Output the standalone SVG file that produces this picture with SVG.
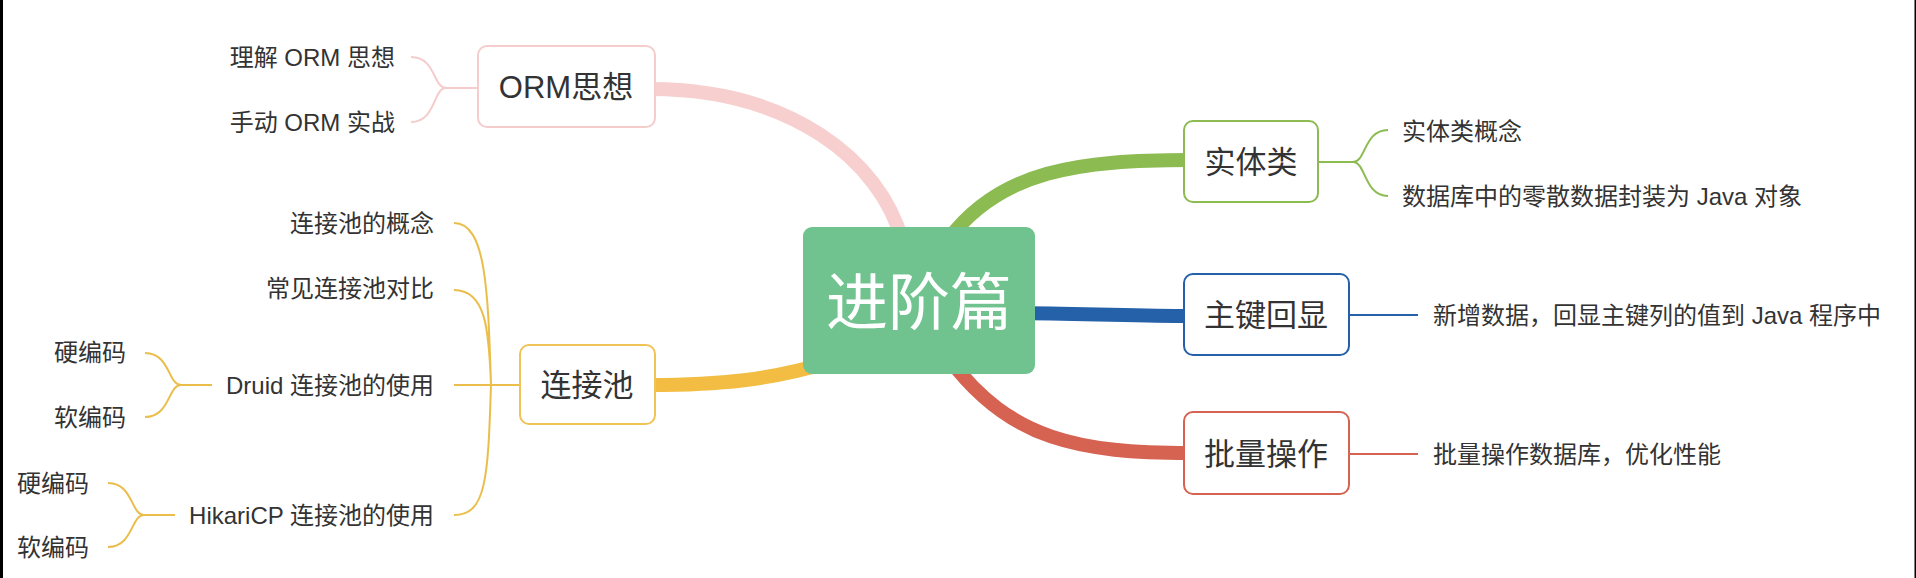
<svg xmlns="http://www.w3.org/2000/svg" width="1916" height="578" viewBox="0 0 1916 578">
<style>
.t{font-family:"Liberation Sans","Noto Sans CJK SC",sans-serif;fill:#333;font-size:24px}
.b{font-family:"Liberation Sans","Noto Sans CJK SC",sans-serif;fill:#333;font-size:31px;text-anchor:middle}
.e{text-anchor:end}
.br{fill:none;stroke-width:2}
.thick{fill:none;stroke-width:14;stroke-linecap:butt}
.box{fill:#fff;stroke-width:2}
</style>
<rect width="1916" height="578" fill="#fff"/>
<rect x="0" y="0" width="3" height="578" fill="#000"/>
<rect x="1914.5" y="0" width="1.5" height="578" fill="#000"/>
<g id="connectors">
<path class="thick" stroke="#f7cfcf" stroke-width="15" d="M650,89 C790,89 880,160 902,240"/>
<path class="thick" stroke="#8cbb52" d="M948,240 C1000,170 1080,160 1190,160"/>
<path class="thick" stroke="#2461a8" d="M1020,313 C1100,314 1140,316 1190,316"/>
<path class="thick" stroke="#d66352" d="M950,360 C1010,440 1080,453 1190,453"/>
<path class="thick" stroke="#f2bd42" stroke-width="15" d="M650,385 C720,385 770,380 830,362"/>
<g stroke="#f5cccc" class="br">
<path d="M478,88 H446 M446,88 C433,88 436,57 411,57 M446,88 C433,88 436,122 411,122"/>
</g>
<g stroke="#8cbb52" class="br">
<path d="M1318,162 H1353 M1353,162 C1366,162 1364,130 1388,130 M1353,162 C1366,162 1364,196 1388,196"/>
</g>
<path class="br" stroke="#2461a8" d="M1349,315 H1418"/>
<path class="br" stroke="#d66352" d="M1349,454 H1418"/>
<g stroke="#ebbe4c" class="br">
<path d="M520,385 H454 M491,385 C488,290 486,223 454,223 M491,385 C489,330 486,290 454,290 M491,385 C488,480 486,515 454,515"/>
<path d="M212,385 H181 M181,385 C168,385 170,353 145,353 M181,385 C168,385 170,417 145,417"/>
<path d="M175,515 H144 M144,515 C131,515 133,483 108,483 M144,515 C131,515 133,547 108,547"/>
</g>
</g>
<g id="center">
<rect x="803" y="227" width="232" height="147" rx="9" fill="#70c28f"/>
<text x="919" y="325" font-family="Liberation Sans,'Noto Sans CJK SC',sans-serif" font-size="62" fill="#fff" text-anchor="middle">进阶篇</text>
</g>
<g id="orm">
<rect class="box" x="478" y="46" width="177" height="81" rx="9" stroke="#f5cccc"/>
<text class="b" x="566" y="98">ORM思想</text>
</g>
<g id="orm-1"><text class="t e" x="395" y="66">理解 ORM 思想</text></g>
<g id="orm-2"><text class="t e" x="395" y="131">手动 ORM 实战</text></g>
<g id="pool">
<rect class="box" x="520" y="345" width="135" height="79" rx="9" stroke="#f0c357"/>
<text class="b" x="587" y="396">连接池</text>
</g>
<g id="pool-1"><text class="t e" x="434" y="232">连接池的概念</text></g>
<g id="pool-2"><text class="t e" x="434" y="297">常见连接池对比</text></g>
<g id="pool-3"><text class="t e" x="434" y="394">Druid 连接池的使用</text></g>
<g id="pool-4"><text class="t e" x="434" y="524">HikariCP 连接池的使用</text></g>
<g id="druid-1"><text class="t e" x="126" y="361">硬编码</text></g>
<g id="druid-2"><text class="t e" x="126" y="426">软编码</text></g>
<g id="hikari-1"><text class="t e" x="89" y="492">硬编码</text></g>
<g id="hikari-2"><text class="t e" x="89" y="556">软编码</text></g>
<g id="entity">
<rect class="box" x="1184" y="121" width="134" height="81" rx="9" stroke="#8cbb52"/>
<text class="b" x="1251" y="173">实体类</text>
</g>
<g id="entity-1"><text class="t" x="1402" y="140">实体类概念</text></g>
<g id="entity-2"><text class="t" x="1402" y="205">数据库中的零散数据封装为 Java 对象</text></g>
<g id="pk">
<rect class="box" x="1184" y="274" width="165" height="81" rx="9" stroke="#2461a8"/>
<text class="b" x="1266" y="326">主键回显</text>
</g>
<g id="pk-1"><text class="t" x="1433" y="324">新增数据，回显主键列的值到 Java 程序中</text></g>
<g id="batch">
<rect class="box" x="1184" y="412" width="165" height="82" rx="9" stroke="#d66352"/>
<text class="b" x="1266" y="465">批量操作</text>
</g>
<g id="batch-1"><text class="t" x="1433" y="463">批量操作数据库，优化性能</text></g>
</svg>
